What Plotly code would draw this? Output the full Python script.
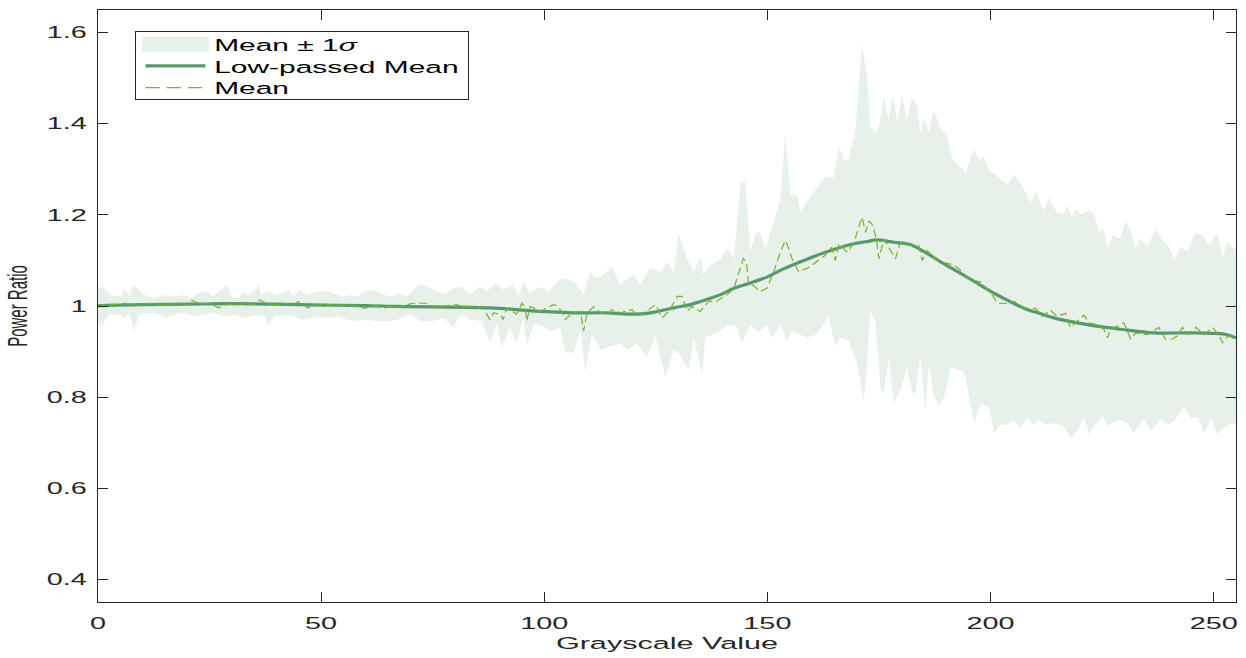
import plotly.graph_objects as go

# ---------------- data ----------------
upper_x = [0, 1, 3, 5, 6, 7, 8, 9.3, 10.5, 12.7, 15, 17, 19.4, 21, 22.4, 24.7, 25.8, 27, 28, 29, 30, 31.4,
           32.5, 33.6, 35, 36, 36.6, 38, 40, 42.6, 44, 45, 47, 49, 51.6, 54, 55, 56.5, 58, 60, 62, 64, 66,
           67.5, 69.2, 72.2, 75.2, 77.4, 79.7, 81.5, 83.4, 85.6, 87.1, 89, 90.8, 93.1, 94.2, 95.3, 96.8,
           99, 101, 102, 104, 106.6, 108.8, 110.3, 111.5, 113.3, 115.2, 117, 118.5, 120, 121.5, 123.7,
           126, 127.5, 129, 130.1, 132, 133.5, 135, 135.7, 137.2, 139.5, 141, 142.5, 144, 145, 146.2,
           147.3, 148.3, 149.5, 151, 152.9, 154, 155.2, 156.7, 157.4, 158.9, 160.8, 163, 164.9, 166,
           167.2, 168.2, 169.7, 171.2, 172.4, 173.1, 174.2, 175, 176.1, 177.2, 178.1, 179.1, 180.2,
           181.3, 182.4, 183.6, 184.3, 185.1, 186.2, 187.3, 188.8, 190.3, 191.4, 193.2, 194.4, 196.3,
           197.4, 198.5, 199.6, 201.5, 203.8, 205.3, 207.5, 209, 210.1, 211.9, 213, 214.9, 216.4, 217.2,
           218.3, 219, 220.5, 222.1, 223.2, 224.3, 225.4, 226.2, 227.3, 229.1, 230.3, 231.4, 232.5,
           233.6, 235.1, 237, 238.5, 240, 241.1, 242.6, 244.1, 246, 247.5, 249, 250.8, 252, 253.1,
           254.6, 255]
upper_y = [1.039, 1.042, 1.024, 1.021, 1.039, 1.021, 1.046, 1.035, 1.024, 1.017, 1.024, 1.021, 1.024,
           1.017, 1.028, 1.032, 1.021, 1.032, 1.039, 1.046, 1.021, 1.017, 1.032, 1.024, 1.032, 1.050,
           1.024, 1.032, 1.024, 1.035, 1.021, 1.035, 1.024, 1.032, 1.032, 1.024, 1.021, 1.024, 1.021,
           1.032, 1.035, 1.024, 1.021, 1.028, 1.021, 1.050, 1.036, 1.025, 1.039, 1.042, 1.025, 1.042,
           1.032, 1.050, 1.036, 1.046, 1.021, 1.053, 1.028, 1.042, 1.030, 1.045, 1.061, 1.054, 1.024,
           1.075, 1.061, 1.068, 1.086, 1.046, 1.060, 1.068, 1.046, 1.083, 1.075, 1.097, 1.075, 1.158,
           1.104, 1.075, 1.111, 1.068, 1.089, 1.104, 1.125, 1.104, 1.271, 1.274, 1.118, 1.160, 1.163,
           1.125, 1.171, 1.234, 1.379, 1.245, 1.241, 1.205, 1.230, 1.256, 1.285, 1.281, 1.350, 1.321,
           1.321, 1.386, 1.574, 1.500, 1.394, 1.379, 1.394, 1.459, 1.408, 1.462, 1.408, 1.462, 1.408,
           1.459, 1.437, 1.379, 1.411, 1.382, 1.430, 1.390, 1.375, 1.321, 1.307, 1.292, 1.347, 1.321,
           1.328, 1.300, 1.285, 1.267, 1.289, 1.256, 1.227, 1.252, 1.209, 1.238, 1.205, 1.202, 1.220,
           1.194, 1.213, 1.202, 1.209, 1.202, 1.162, 1.169, 1.126, 1.155, 1.148, 1.187, 1.162, 1.126,
           1.148, 1.130, 1.169, 1.144, 1.130, 1.101, 1.130, 1.119, 1.162, 1.155, 1.134, 1.159, 1.108,
           1.140, 1.126, 1.130]

lower_x = [0, 0.7, 2.2, 4.5, 6, 7, 8, 9.3, 11.2, 12.7, 15, 17, 19.4, 21.7, 24, 26, 28.4, 30.6, 32.9, 35,
           37.4, 38, 39.6, 41.9, 44, 45.6, 47.8, 49.3, 51.6, 53.8, 56, 58.3, 59.8, 62, 65, 67, 70, 72.2,
           75.2, 77.4, 79.7, 81.2, 83.4, 86, 87.8, 89.4, 90.5, 92.3, 93.8, 95.3, 96.1, 97.6, 99.1, 101.4,
           103.6, 104.7, 106.6, 108.1, 109.2, 110.7, 112.6, 114.8, 117, 118.5, 120.7, 123, 124.9, 127.1,
           129, 130.1, 132.4, 133.5, 135.4, 136.1, 139.5, 141, 143.2, 144.3, 146.2, 148, 149.9, 151,
           152.9, 154.4, 155.5, 158.9, 161, 163.7, 165.2, 166.3, 168.2, 170.1, 171.6, 172.2, 173.1,
           174.2, 175.4, 176.1, 177.2, 178.3, 179.8, 181.3, 182.4, 183.2, 184.3, 185.4, 186.2, 187.3,
           188.5, 189.6, 191.1, 194.1, 196.3, 197.8, 199.6, 200.8, 202.3, 203.8, 205.3, 206.7, 208.2,
           209.7, 210.8, 212.3, 214.2, 216.4, 217.9, 219.4, 220.9, 222.1, 223.2, 225.1, 226.2, 227.7,
           229.1, 230.6, 232.1, 234.4, 235.9, 238.1, 239.6, 241.1, 243.4, 244.9, 246.4, 247.9, 249.4,
           250.8, 252.3, 253.8, 255]
lower_y = [0.967, 0.951, 0.981, 0.981, 0.974, 0.985, 0.945, 0.981, 0.985, 0.985, 0.974, 0.981, 0.985,
           0.977, 0.981, 0.985, 0.977, 0.981, 0.974, 0.981, 0.977, 0.956, 0.977, 0.981, 0.977, 0.970,
           0.974, 0.977, 0.974, 0.977, 0.970, 0.967, 0.970, 0.967, 0.967, 0.970, 0.982, 0.967, 0.967,
           0.974, 0.952, 0.982, 0.970, 0.967, 0.920, 0.960, 0.909, 0.952, 0.917, 0.974, 0.913, 0.960,
           0.959, 0.945, 0.952, 0.898, 0.898, 0.945, 0.855, 0.938, 0.904, 0.911, 0.917, 0.904, 0.917,
           0.888, 0.934, 0.844, 0.904, 0.896, 0.859, 0.930, 0.849, 0.931, 0.945, 0.959, 0.955, 0.919,
           0.959, 0.941, 0.959, 0.931, 0.959, 0.924, 0.945, 0.931, 0.938, 0.978, 0.912, 0.931, 0.924,
           0.874, 0.793, 0.850, 0.988, 0.966, 0.815, 0.811, 0.888, 0.786, 0.815, 0.866, 0.811, 0.808,
           0.891, 0.775, 0.873, 0.801, 0.779, 0.801, 0.866, 0.855, 0.742, 0.786, 0.779, 0.721, 0.739,
           0.739, 0.750, 0.732, 0.757, 0.739, 0.750, 0.739, 0.743, 0.736, 0.711, 0.725, 0.757, 0.718,
           0.736, 0.757, 0.736, 0.746, 0.750, 0.743, 0.721, 0.753, 0.725, 0.750, 0.739, 0.746, 0.779,
           0.753, 0.757, 0.721, 0.753, 0.718, 0.732, 0.743, 0.739]

mean_x = [0, 2, 4, 6, 8, 10, 12, 14, 16, 18, 20, 21, 23, 25, 27, 29, 31, 33, 35, 36.2, 38, 40, 42, 44,
          44.8, 47, 49, 51, 53, 55, 57, 59.8, 61.5, 64, 65.5, 67, 70.5, 73.7, 75.2, 76.7, 80.4, 81.5,
          83.4, 86.3, 87.8, 88.6, 90.1, 90.8, 91.6, 93.8, 95, 95.7, 96.1, 96.8, 98.3, 99.1, 102, 103.2,
          104.7, 106.2, 108.1, 108.8, 109.6, 111.1, 112.6, 114.4, 115.2, 117, 119.7, 120.8, 122.6,
          124.9, 126.4, 127.9, 129.8, 130.9, 132, 133.1, 134.9, 136.8, 138.5, 141, 142.5, 143.6, 144.6,
          145.3, 145.8, 146.8, 148.3, 149.9, 151.4, 152.9, 154, 154.8, 155.5, 157, 159.6, 161, 162.9,
          164.4, 165.2, 166, 167.9, 169.4, 170.5, 171.2, 172, 172.8, 173.7, 174.5, 175, 176.1, 177.6,
          178.7, 179.8, 182, 183.9, 184.7, 185.8, 186.9, 188.8, 191.8, 193.2, 195.5, 197.8, 200.4,
          201.5, 203, 205.3, 206.7, 208, 210.1, 211.6, 213.4, 214.9, 216.8, 217.9, 219.4, 220.9, 222.1,
          224, 225.4, 226.2, 226.9, 229.9, 231.4, 232.5, 235.1, 237.7, 239.2, 240.7, 241.8, 243, 244.1,
          246, 247.9, 249.7, 251.2, 252, 253.1, 255]
mean_y = [1.000, 1.004, 1.003, 1.006, 1.000, 1.003, 1.006, 1.002, 1.004, 1.006, 1.003, 1.012, 1.004,
          1.006, 0.996, 1.004, 1.002, 1.006, 1.003, 1.013, 1.004, 1.002, 1.006, 1.003, 1.010, 0.996,
          1.002, 1.004, 1.001, 1.003, 1.000, 0.995, 1.002, 0.995, 0.999, 0.997, 1.006, 1.006, 0.996,
          0.999, 1.003, 0.999, 0.999, 0.996, 0.970, 0.985, 0.982, 0.970, 0.996, 0.982, 1.006, 0.996,
          0.967, 0.999, 0.993, 0.988, 1.003, 0.999, 0.970, 0.985, 0.988, 0.945, 0.985, 0.999, 0.985,
          0.982, 0.992, 0.985, 0.992, 0.978, 0.985, 1.003, 0.974, 0.988, 1.021, 1.021, 0.988, 0.999,
          0.988, 1.010, 1.010, 1.025, 1.039, 1.075, 1.104, 1.097, 1.046, 1.046, 1.032, 1.039, 1.075,
          1.118, 1.144, 1.126, 1.104, 1.075, 1.086, 1.097, 1.111, 1.129, 1.100, 1.136, 1.118, 1.140,
          1.176, 1.195, 1.162, 1.187, 1.176, 1.140, 1.104, 1.147, 1.122, 1.104, 1.140, 1.133, 1.133,
          1.100, 1.122, 1.111, 1.097, 1.090, 1.079, 1.057, 1.053, 1.024, 1.007, 1.005, 1.010, 1.000,
          0.995, 0.995, 0.977, 0.991, 0.977, 0.984, 0.953, 0.967, 0.980, 0.963, 0.959, 0.949, 0.930,
          0.949, 0.963, 0.927, 0.941, 0.937, 0.953, 0.927, 0.927, 0.934, 0.953, 0.937, 0.953, 0.937,
          0.953, 0.937, 0.919, 0.934, 0.930]

lowpass_x = [0, 10, 20, 30, 40, 50, 60, 67, 75, 88, 99, 106.6, 114, 120, 123.8, 129, 132.7, 135, 139.5,
             142.5, 146, 150, 153.7, 157.4, 161, 164.9, 168.6, 172, 174.6, 178.3, 182, 185.8, 189.5,
             193.2, 197, 200.8, 204.5, 208, 211, 214.2, 221.7, 229.1, 236.6, 244.1, 250, 253, 255]
lowpass_y = [1.001, 1.003, 1.004, 1.005, 1.004, 1.002, 1.001, 0.999, 0.998, 0.996, 0.988, 0.985, 0.985,
             0.982, 0.985, 0.996, 1.003, 1.010, 1.025, 1.039, 1.050, 1.064, 1.082, 1.097, 1.111, 1.124,
             1.135, 1.141, 1.145, 1.140, 1.135, 1.115, 1.093, 1.072, 1.050, 1.028, 1.009, 0.993, 0.984,
             0.974, 0.959, 0.949, 0.941, 0.941, 0.940, 0.937, 0.930]

x_ticks = [0, 50, 100, 150, 200, 250]
y_ticks = [0.4, 0.6, 0.8, 1.0, 1.2, 1.4, 1.6]
y_tick_labels = ["0.4", "0.6", "0.8", "1", "1.2", "1.4", "1.6"]

# ---------------- styles ----------------
BAND = "rgb(232,240,234)"
LOWPASS = "rgb(88,152,112)"
MEANC = "rgb(119,178,44)"
AXC = "#262626"
FONT = "Liberation Sans, Arial, sans-serif"

fig = go.Figure()
fig.add_trace(go.Scatter(
    x=upper_x + lower_x[::-1], y=upper_y + lower_y[::-1],
    fill="toself", fillcolor=BAND, line=dict(width=0), mode="lines",
    name="Mean \u00b1 1<i>\u03c3</i>", hoverinfo="skip"))
fig.add_trace(go.Scatter(
    x=lowpass_x, y=lowpass_y, mode="lines", line=dict(color=LOWPASS, width=3.2, shape="spline"),
    name="Low-passed Mean"))
fig.add_trace(go.Scatter(
    x=mean_x, y=mean_y, mode="lines", line=dict(color=MEANC, width=1.2, dash="8px,4px"),
    name="Mean"))

axis_common = dict(
    showgrid=False, zeroline=False, showline=True, linecolor=AXC, linewidth=1,
    mirror="ticks", ticks="inside", ticklen=10, tickcolor=AXC, tickwidth=1,
    tickfont=dict(family=FONT, size=16, color=AXC),
)
fig.update_xaxes(range=[0, 255], tickvals=x_ticks, ticklabelstandoff=7, **axis_common,
                 title=dict(text="Grayscale Value", font=dict(family=FONT, size=17, color=AXC), standoff=5))
fig.update_yaxes(range=[0.35, 1.65], tickvals=y_ticks, ticktext=y_tick_labels, ticklabelstandoff=7,
                 **axis_common,
                 title=dict(text="Power Ratio", font=dict(family=FONT, size=15, color=AXC), standoff=37))

fig.update_layout(
    width=1246, height=658,
    margin=dict(l=98, r=10, t=9, b=50),
    plot_bgcolor="white", paper_bgcolor="white",
    showlegend=True,
    legend=dict(x=0.0325, y=0.965, xanchor="left", yanchor="top",
                bordercolor=AXC, borderwidth=1, bgcolor="white",
                font=dict(family=FONT, size=17, color="black"),
                itemwidth=34, tracegroupgap=0),
)

# The reference picture is stretched horizontally (~1.8x); stretch the text the same way,
# and tighten the legend rows to the reference spacing.
post = """
document.body.style.margin='0';
var gd = document.getElementById('{plot_id}');
var S = 1.8, SL = 1.76;
function stretchText(t, s) {
  var bb = t.getBBox();
  var anchor = t.getAttribute('text-anchor') || 'start';
  var ax = bb.x + (anchor === 'end' ? bb.width : (anchor === 'middle' ? bb.width / 2 : 0));
  var ay = bb.y + bb.height / 2;
  var px = ax;
  var tl = t.transform.baseVal.consolidate();
  if (tl) { var m = tl.matrix; px = m.a * ax + m.c * ay + m.e; }
  var old = t.getAttribute('transform') || '';
  t.setAttribute('transform', 'translate(' + px + ',0) scale(' + s + ',1) translate(' + (-px) + ',0) ' + old);
}
gd.querySelectorAll('.xtick text, .ytick text, text.xtitle, text.ytitle').forEach(function (t) { stretchText(t, S); });
var lg = gd.querySelector('g.legend');
if (lg) {
  var rows = lg.querySelectorAll('g.traces');
  if (rows.length) {
    var y0 = rows[0].transform.baseVal.consolidate().matrix.f - 5;
    rows.forEach(function (g, i) {
      var m = g.transform.baseVal.consolidate().matrix;
      g.setAttribute('transform', 'translate(' + m.e + ',' + (y0 + i * 21.7) + ')');
    });
  }
  lg.querySelectorAll('.legendfill path').forEach(function (p) {
    var b = p.getBBox();
    if (b.width > 0) {
      var cy = b.y + b.height / 2 - 1;
      p.setAttribute('d', 'M' + (b.x - 2) + ',' + (cy - 7.5) + 'h' + (b.width + 4) + 'v15h' + (-(b.width + 4)) + 'z');
    }
  });
  lg.querySelectorAll('rect.bg').forEach(function (r) {
    r.setAttribute('height', 68);
    r.style.vectorEffect = 'non-scaling-stroke';
  });
  var tl = lg.transform.baseVal.consolidate();
  var lx = tl ? tl.matrix.e : 0;
  var old = lg.getAttribute('transform') || '';
  lg.setAttribute('transform', 'translate(' + lx + ',0) scale(' + SL + ',1) translate(' + (-lx) + ',0) ' + old);
}
"""

fig.write_html("out.html", config={"displayModeBar": False}, post_script=post)
